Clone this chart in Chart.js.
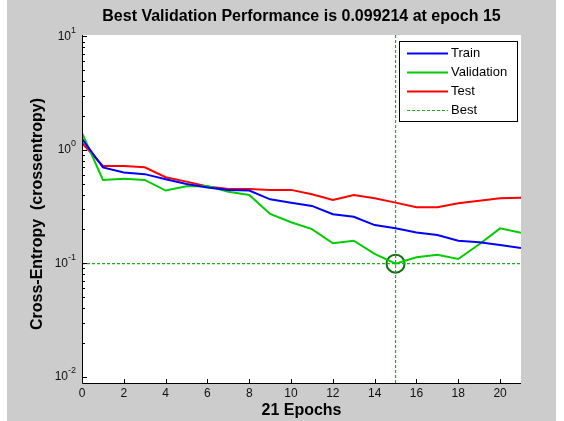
<!DOCTYPE html>
<html>
<head>
<meta charset="utf-8">
<title>Performance</title>
<script src="https://cdn.jsdelivr.net/npm/chart.js@4/dist/chart.umd.min.js"></script>
<style>
  html, body { margin: 0; padding: 0; background: #fff; }
  canvas { display: block; }
</style>
</head>
<body>
<canvas id="perf" width="564" height="421"></canvas>
<script>
// cross-entropy per epoch
const epochs = [0, 1, 2, 3, 4, 5, 6, 7, 8, 9, 10, 11, 12, 13, 14, 15, 16, 17, 18, 19, 20, 21]
const train = [1.25, 0.70, 0.63, 0.61, 0.55, 0.50, 0.465, 0.443, 0.437, 0.366, 0.342, 0.32,
    0.27, 0.257, 0.217, 0.203, 0.187, 0.177, 0.158, 0.153, 0.145, 0.136]
const validation = [1.41, 0.542, 0.556, 0.542, 0.437, 0.476, 0.48, 0.427, 0.40, 0.272, 0.23, 0.20,
    0.15, 0.158, 0.121, 0.099214, 0.113, 0.119, 0.109, 0.147, 0.203, 0.186]
const test = [1.15, 0.72, 0.72, 0.70, 0.573, 0.524, 0.475, 0.452, 0.45, 0.443, 0.443, 0.405,
    0.361, 0.40, 0.374, 0.342, 0.311, 0.311, 0.338, 0.356, 0.374, 0.378]

const bestEpoch = 15
const bestPerf = validation[bestEpoch]

const xTicks = [0, 2, 4, 6, 8, 10, 12, 14, 16, 18, 20]
const yTicks = [0.01, 0.1, 1, 10]
const xMax = 21
const yMin = 0.0088
const yMax = 10.27

const FONT = '"Liberation Sans", Arial, sans-serif'
const BEST_COLOR = '#22a822'

const toPoints = (ys) => epochs.map((e, i) => ({x: e, y: ys[i]}))

// matlab-style figure: gray backdrop, inward ticks, superscript log labels, boxed legend
const matlabAxes = {
    id: 'matlabAxes',
    beforeDraw(chart) {
        const {ctx, chartArea: a} = chart
        ctx.save()
        ctx.fillStyle = '#fff'
        ctx.fillRect(0, 0, chart.width, chart.height)
        ctx.fillStyle = '#cccccc'
        ctx.fillRect(7, 0, 549, chart.height)
        ctx.fillStyle = '#fff'
        ctx.fillRect(a.left, a.top, a.right - a.left, a.bottom - a.top)
        ctx.restore()
    },
    afterDraw(chart) {
        const {ctx, chartArea: a, scales: {x, y}} = chart
        ctx.save()

        // axis lines and tick marks
        ctx.strokeStyle = '#000'
        ctx.lineWidth = 1
        ctx.beginPath()
        ctx.moveTo(a.left + 0.5, a.top)
        ctx.lineTo(a.left + 0.5, a.bottom + 0.5)
        ctx.lineTo(a.right, a.bottom + 0.5)
        x.ticks.forEach(t => {
            const px = Math.round(x.getPixelForValue(t.value)) + 0.5
            ctx.moveTo(px, a.bottom)
            ctx.lineTo(px, a.bottom - 4)
        })
        yTicks.forEach(v => {
            const py = Math.round(y.getPixelForValue(v)) + 0.5
            ctx.moveTo(a.left, py)
            ctx.lineTo(a.left + 5, py)
            if (v >= yMax) return
            for (let m = 2; m <= 9; m++) {
                const mv = v * m
                if (mv > yMax) break
                const pm = Math.round(y.getPixelForValue(mv)) + 0.5
                ctx.moveTo(a.left, pm)
                ctx.lineTo(a.left + 3, pm)
            }
        })
        ctx.stroke()

        ctx.fillStyle = '#111'
        // x tick labels
        ctx.font = '12px ' + FONT
        ctx.textAlign = 'center'
        ctx.textBaseline = 'middle'
        x.ticks.forEach(t => {
            ctx.fillText(String(t.value), x.getPixelForValue(t.value), a.bottom + 11)
        })

        // y tick labels as 10^n
        y.ticks.forEach(t => {
            const py = y.getPixelForValue(t.value)
            const exp = String(Math.round(Math.log10(t.value)))
            ctx.font = '9px ' + FONT
            const ew = ctx.measureText(exp).width
            ctx.textAlign = 'left'
            ctx.textBaseline = 'middle'
            const right = a.left - 6
            ctx.fillText(exp, right - ew, py - 6)
            ctx.font = '12px ' + FONT
            ctx.textAlign = 'right'
            ctx.fillText('10', right - ew, py)
        })

        // titles
        ctx.fillStyle = '#000'
        ctx.font = 'bold 16px ' + FONT
        ctx.textAlign = 'center'
        ctx.textBaseline = 'middle'
        ctx.fillText('Best Validation Performance is ' + bestPerf + ' at epoch ' + bestEpoch,
            (a.left + a.right) / 2, 17)
        ctx.fillText(epochs.length - 1 + ' Epochs', (a.left + a.right) / 2, a.bottom + 28)
        ctx.save()
        ctx.translate(38, (a.top + a.bottom) / 2 + 5)
        ctx.rotate(-Math.PI / 2)
        ctx.fillText('Cross-Entropy  (crossentropy)', 0, 0)
        ctx.restore()

        // legend box
        const items = chart.data.datasets.filter(d => d.label)
        const bx = a.right - 122, by = a.top + 6, bw = 118, bh = 80
        ctx.fillStyle = '#fff'
        ctx.fillRect(bx, by, bw, bh)
        ctx.strokeStyle = '#000'
        ctx.strokeRect(bx + 0.5, by + 0.5, bw, bh)
        ctx.font = '13px ' + FONT
        ctx.textAlign = 'left'
        items.forEach((d, i) => {
            const ly = by + 12 + i * 19
            ctx.strokeStyle = d.borderColor
            ctx.lineWidth = d.borderWidth
            ctx.setLineDash(d.borderDash || [])
            ctx.beginPath()
            ctx.moveTo(bx + 8, Math.round(ly) + 0.5)
            ctx.lineTo(bx + 49, Math.round(ly) + 0.5)
            ctx.stroke()
            ctx.setLineDash([])
            ctx.fillStyle = '#000'
            ctx.fillText(d.label, bx + 52, ly)
        })
        ctx.restore()
    }
}

const ctx = document.getElementById('perf').getContext('2d')
new Chart(ctx, {
    type: 'line',
    data: {
        datasets: [
            {label: 'Train', data: toPoints(train), borderColor: '#0000ff', borderWidth: 2},
            {label: 'Validation', data: toPoints(validation), borderColor: '#00cc00', borderWidth: 2},
            {label: 'Test', data: toPoints(test), borderColor: '#ff0000', borderWidth: 2},
            {label: 'Best', data: [{x: bestEpoch, y: yMin}, {x: bestEpoch, y: yMax}],
                borderColor: BEST_COLOR, borderWidth: 1.2, borderDash: [3, 2]},
            {label: '', data: [{x: 0, y: bestPerf}, {x: xMax, y: bestPerf}],
                borderColor: BEST_COLOR, borderWidth: 1.2, borderDash: [3, 2]},
            {label: '', data: [{x: bestEpoch, y: bestPerf}], showLine: false,
                pointRadius: 9, pointBorderWidth: 2, pointBorderColor: '#137013',
                pointBackgroundColor: 'rgba(0,0,0,0)'}
        ]
    },
    options: {
        responsive: false,
        animation: false,
        devicePixelRatio: 1,
        layout: {padding: {left: 82, right: 43, top: 35, bottom: 38}, autoPadding: false},
        elements: {line: {tension: 0, fill: false}, point: {radius: 0}},
        plugins: {legend: {display: false}, title: {display: false}, tooltip: {enabled: false}},
        scales: {
            x: {
                type: 'linear', min: 0, max: xMax,
                grid: {display: false, drawTicks: false}, border: {display: false},
                ticks: {display: false},
                afterBuildTicks: s => { s.ticks = xTicks.map(v => ({value: v})) }
            },
            y: {
                type: 'logarithmic', min: yMin, max: yMax,
                grid: {display: false, drawTicks: false}, border: {display: false},
                ticks: {display: false},
                afterBuildTicks: s => { s.ticks = yTicks.map(v => ({value: v})) }
            }
        }
    },
    plugins: [matlabAxes]
})
</script>
</body>
</html>
